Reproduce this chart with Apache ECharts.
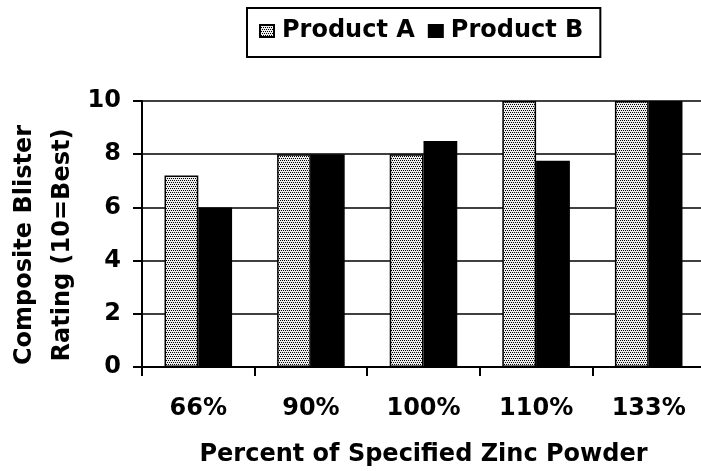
<!DOCTYPE html>
<html>
<head>
<meta charset="utf-8">
<script src="https://cdn.jsdelivr.net/npm/echarts@6/dist/echarts.min.js"></script>
<style>html,body{margin:0;padding:0;background:#fff}#c{width:701px;height:471px}</style>
</head>
<body>
<div id="c"></div>
<script>
var categories = ['66%', '90%', '100%', '110%', '133%'];
var productA = [7.2, 8, 8, 10, 10];
var productB = [6, 8, 8.5, 7.75, 10];
var seriesNames = ['Product A', 'Product B'];
var xTitle = 'Percent of Specified Zinc Powder';
var yTitle = 'Composite Blister\nRating (10=Best)';

var FONT = 'DejaVu Sans';
var pc = document.createElement('canvas');
pc.width = 4; pc.height = 4;
var ctx = pc.getContext('2d');
ctx.fillStyle = '#ececec'; ctx.fillRect(0, 0, 4, 4);
ctx.fillStyle = '#000';
ctx.fillRect(0, 0, 1, 1); ctx.fillRect(2, 0, 1, 1);
ctx.fillRect(1, 2, 1, 1); ctx.fillRect(3, 2, 1, 1);
var pattern = { image: pc, repeat: 'repeat' };

var chart = echarts.init(document.getElementById('c'), null, { renderer: 'canvas' });
chart.setOption({
  animation: false,
  backgroundColor: '#fff',
  legend: {
    left: 247, top: 8,
    padding: [11, 17, 14, 12],
    borderColor: '#000', borderWidth: 2,
    itemWidth: 14, itemHeight: 12, itemGap: 13,
    icon: 'rect',
    textStyle: { fontFamily: FONT, fontWeight: 'bold', fontSize: 24, color: '#000', padding: [0, 0, 0, 3] },
    data: seriesNames
  },
  grid: { left: 142, top: 101, width: 563, bottom: 104, containLabel: false, outerBoundsMode: 'none' },
  xAxis: {
    type: 'category',
    data: categories,
    axisLine: { lineStyle: { color: '#000', width: 2 } },
    axisTick: { show: true, length: 9, lineStyle: { color: '#000', width: 2 } },
    axisLabel: { margin: 30, fontFamily: FONT, fontWeight: 'bold', fontSize: 24, color: '#000' },
    name: xTitle, nameLocation: 'middle', nameGap: 76, nameMoveOverlap: false,
    nameTextStyle: { fontFamily: FONT, fontWeight: 'bold', fontSize: 24, color: '#000' }
  },
  yAxis: {
    type: 'value', min: 0, max: 10, interval: 2,
    axisLine: { show: true, lineStyle: { color: '#000', width: 2 } },
    axisTick: { show: true, length: 9, lineStyle: { color: '#000', width: 2 } },
    splitLine: { show: true, lineStyle: { color: '#000', width: 1.5 } },
    axisLabel: { margin: 21, fontFamily: FONT, fontWeight: 'bold', fontSize: 24, color: '#000' },
    name: yTitle, nameLocation: 'middle', nameRotate: 90, nameGap: 60, nameMoveOverlap: false,
    nameTextStyle: { fontFamily: FONT, fontWeight: 'bold', fontSize: 24, color: '#000', lineHeight: 38, padding: [0, 22, 0, 0] }
  },
  series: [
    { name: seriesNames[0], type: 'bar', data: productA, barGap: '0%', barCategoryGap: '40%',
      itemStyle: { color: pattern, borderColor: '#000', borderWidth: 1.5 } },
    { name: seriesNames[1], type: 'bar', data: productB,
      itemStyle: { color: '#000', borderColor: '#000', borderWidth: 1.5 } }
  ]
});
</script>
</body>
</html>
